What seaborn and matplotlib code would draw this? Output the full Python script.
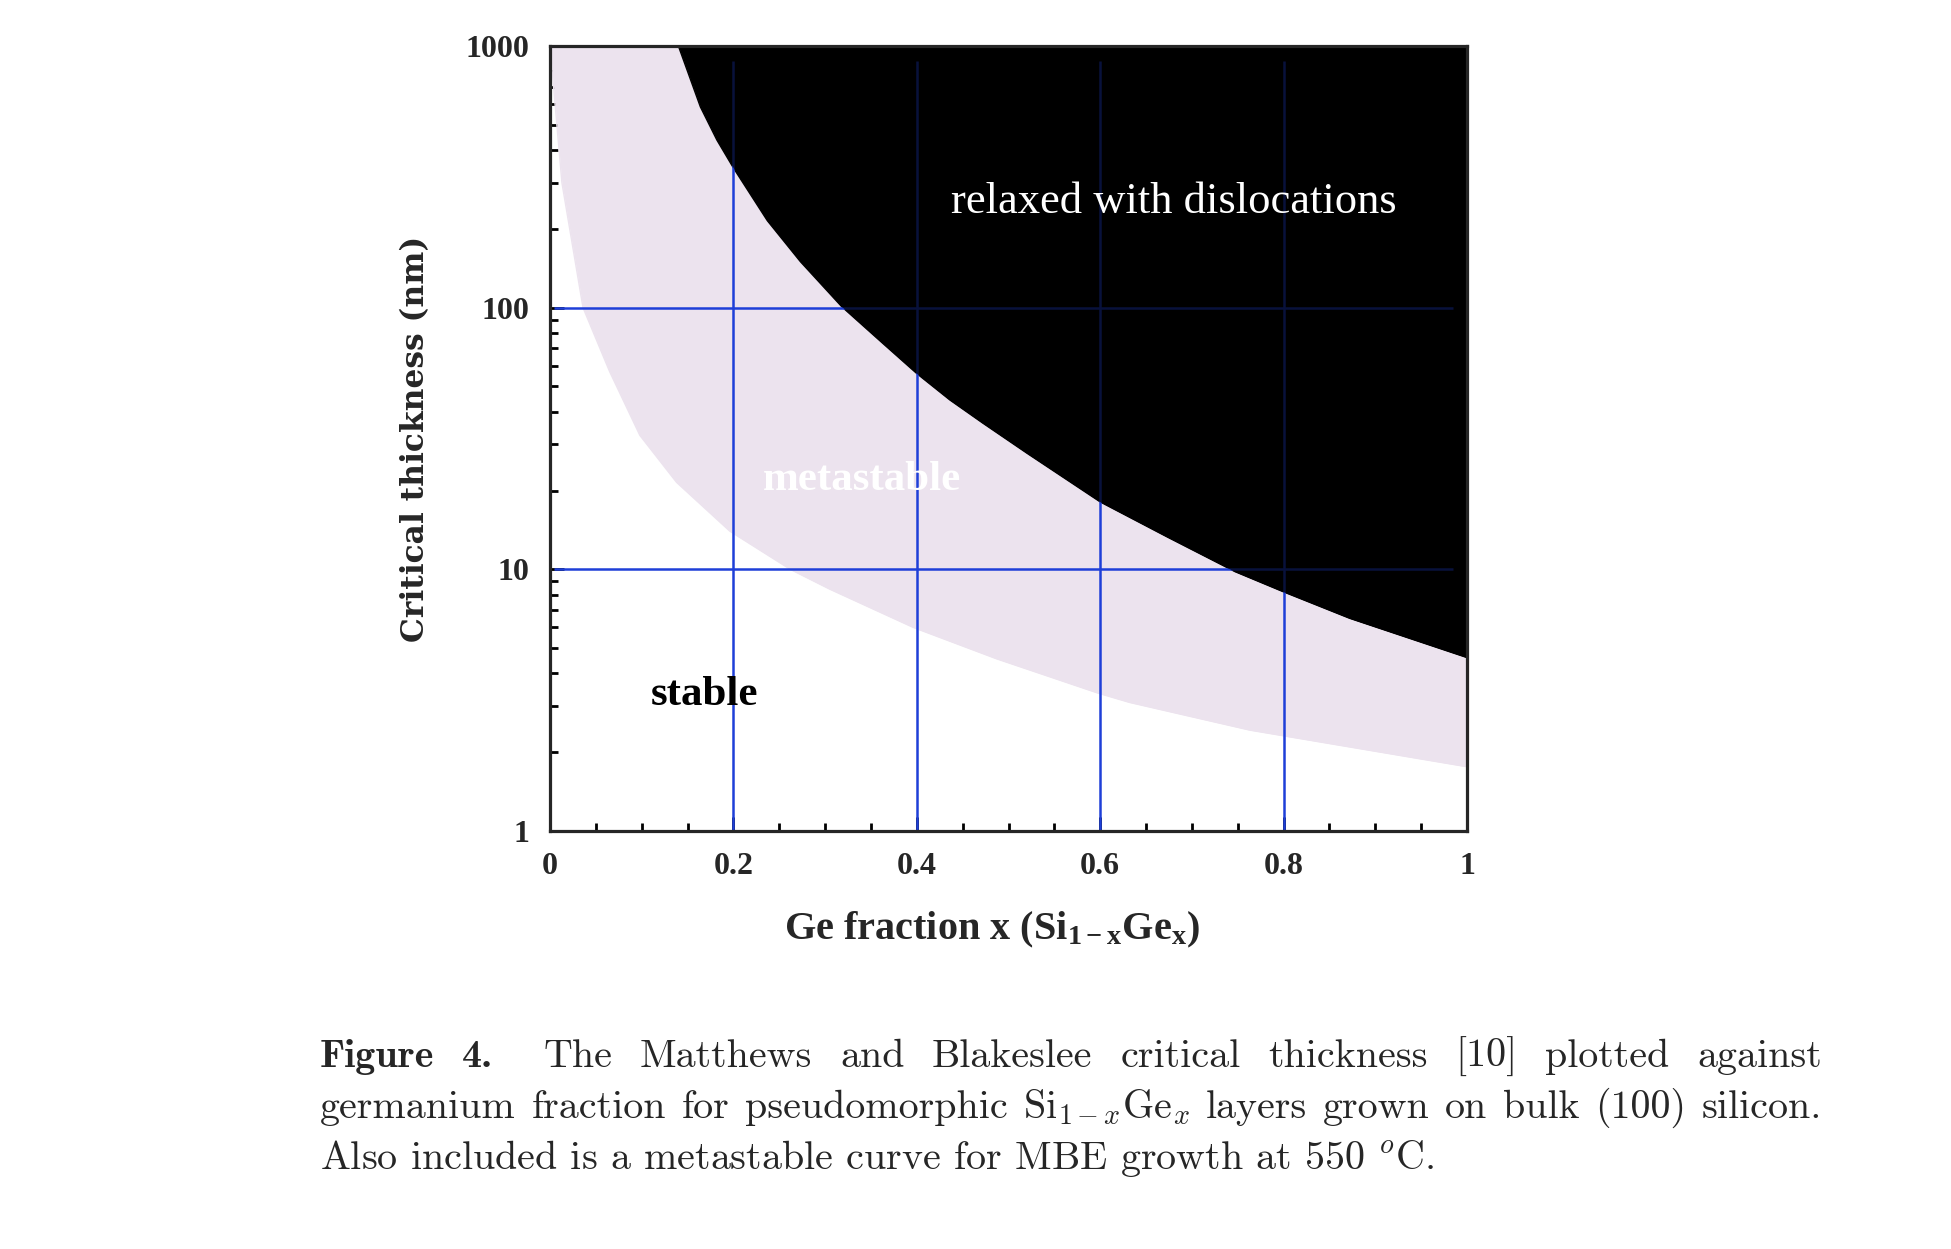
"""Matthews-Blakeslee critical thickness chart for Si(1-x)Ge(x) -> out.png"""
import matplotlib
matplotlib.use("Agg")
import matplotlib.pyplot as plt
import seaborn as sns
from matplotlib.ticker import FixedLocator, NullFormatter, LogLocator

# ── data ─────────────────────────────────────────────────────────────────────
# upper boundary: metastable limit (black = relaxed above it)
ge_relax = [0.14, 0.164, 0.182, 0.20, 0.237, 0.273, 0.318, 0.363, 0.40, 0.436,
            0.472, 0.52, 0.60, 0.673, 0.747, 0.80, 0.872, 1.0]
h_relax = [1000, 585, 437, 342, 215, 150, 101, 73, 56, 44.4,
           36.2, 27.8, 18.1, 13.3, 9.8, 8.2, 6.5, 4.6]
# lower boundary: Matthews-Blakeslee (stable below it)
ge_mb = [0.0, 0.013, 0.036, 0.065, 0.098, 0.138, 0.196, 0.262, 0.305, 0.396,
         0.487, 0.597, 0.632, 0.763, 1.0]
h_mb = [1000, 300, 100, 57, 32.5, 21.5, 14, 10.0, 8.4, 6.0,
        4.55, 3.37, 3.1, 2.43, 1.76]

grid_x = [0.2, 0.4, 0.6, 0.8]
grid_y = [10, 100]
xticks = [0, 0.2, 0.4, 0.6, 0.8, 1]
xtick_labels = ["0", "0.2", "0.4", "0.6", "0.8", "1"]
yticks = [1, 10, 100, 1000]
ytick_labels = ["1", "10", "100", "1000"]

caption_1 = ["The", "Matthews", "and", "Blakeslee", "critical", "thickness",
             "[10]", "plotted", "against"]
caption_2 = ["germanium", "fraction", "for", "pseudomorphic", r"Si$_{1-x}$Ge$_x$",
             "layers", "grown", "on", "bulk", "(100)", "silicon."]
caption_3 = r"Also included is a metastable curve for MBE growth at 550 $^o$C."

PINK = "#ECE3EE"
BLUE = "#1E3FD8"

sns.set_style("ticks")
plt.rcParams["font.family"] = ["Liberation Serif", "DejaVu Serif"]
plt.rcParams["mathtext.fontset"] = "custom"
plt.rcParams["mathtext.rm"] = "Liberation Serif:bold"
plt.rcParams["mathtext.it"] = "Liberation Serif:bold"
plt.rcParams["mathtext.bf"] = "Liberation Serif:bold"

W, H = 1951, 1249
fx = lambda px: px / W
fy = lambda py: 1 - py / H

fig = plt.figure(figsize=(W / 100, H / 100), dpi=100)
ax = fig.add_axes([fx(550), fy(831), 917 / W, 785 / H])
ax.set_yscale("log")
ax.set_xlim(0, 1)
ax.set_ylim(1, 1000)

# regions
ax.fill_between(ge_mb, h_mb, 1000, color=PINK, lw=0, zorder=1)
sns.lineplot(x=ge_mb, y=h_mb, color=PINK, lw=1, ax=ax, zorder=1)
ax.fill_between(ge_relax, h_relax, 1000, color="black", lw=0, zorder=2)
sns.lineplot(x=ge_relax, y=h_relax, color="black", lw=1, ax=ax, zorder=2)

# blue guide lines, dimmed where they run through the black region
ax.vlines(grid_x, 1, 880, color=BLUE, lw=1.8, zorder=3)
ax.hlines(grid_y, 0.004, 0.985, color=BLUE, lw=1.8, zorder=3)
ax.fill_between(ge_relax, h_relax, 1000, color="black", alpha=0.72, lw=0, zorder=4)

# ticks
ax.xaxis.set_major_locator(FixedLocator(xticks))
ax.set_xticklabels(xtick_labels)
ax.xaxis.set_minor_locator(FixedLocator([i * 0.05 for i in range(21)]))
ax.yaxis.set_major_locator(FixedLocator(yticks))
ax.set_yticklabels(ytick_labels)
ax.yaxis.set_minor_locator(LogLocator(base=10, subs=range(2, 10)))
ax.yaxis.set_minor_formatter(NullFormatter())
ax.tick_params(which="both", direction="in", top=True, right=True,
               width=2.0, color="black", zorder=6)
ax.tick_params(which="major", length=10, labelsize=23, pad=15)
ax.tick_params(which="minor", length=5.5)
for lab in ax.get_xticklabels() + ax.get_yticklabels():
    lab.set_fontweight("bold")
for s in ax.spines.values():
    s.set_linewidth(2.3)
    s.set_zorder(6)

# axis titles
ax.set_ylabel("Critical thickness (nm)", family="DejaVu Serif", fontweight="bold",
              fontsize=22.5)
ax.yaxis.set_label_coords(-0.13, 0.5)
ax.set_xlabel(r"Ge fraction x (Si$_{1-x}$Ge$_x$)", fontweight="bold", fontsize=29)
ax.xaxis.set_label_coords(0.482, -0.1)

# region labels
ax.text(0.68, 254, "relaxed with dislocations", color="white", fontsize=32,
        ha="center", va="center", zorder=7)
ax.text(0.34, 22, "metastable", color="white", fontsize=31, fontweight="bold",
        ha="center", va="center", zorder=7)
ax.text(0.168, 3.3, "stable", color="black", fontsize=31, fontweight="bold",
        ha="center", va="center", zorder=7)

# ── caption (justified like the typeset page) ─────────────────────────────────
CAP_SIZE = 28.8
CAP_KW = dict(family="cmr10", fontsize=CAP_SIZE, math_fontfamily="cm", va="baseline")
fig.canvas.draw()
rend = fig.canvas.get_renderer()
LEFT, RIGHT = 320, 1822


def justify(words, y, lead=None):
    arts, weights = [], []
    if lead:
        for w in lead:
            arts.append(fig.text(0, fy(y), w, family="cmb10", fontsize=CAP_SIZE,
                                 va="baseline"))
        weights = [1.0] * (len(lead) - 1) + [1.8]
    for w in words:
        arts.append(fig.text(0, fy(y), w, **CAP_KW))
    weights += [1.0] * (len(words) - 1)
    widths = [a.get_window_extent(rend).width for a in arts]
    gap = (RIGHT - LEFT - sum(widths)) / sum(weights)
    x = LEFT
    for i, a in enumerate(arts):
        a.set_x(fx(x))
        if i < len(weights):
            x += widths[i] + gap * weights[i]


justify(caption_1, 1067, lead=["Figure", "4."])
justify(caption_2, 1118)
fig.text(fx(LEFT), fy(1169), caption_3, **CAP_KW)

fig.savefig("out.png", dpi=100)
